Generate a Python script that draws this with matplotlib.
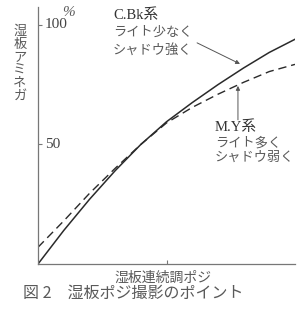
import matplotlib
matplotlib.use("Agg")
import matplotlib.pyplot as plt

plt.rcParams['font.family'] = ['Noto Sans CJK JP', 'DejaVu Sans']

# values (x: wet-plate continuous-tone positive, y: %)
x_vals = [0, 10, 20, 30, 40, 50, 60, 70, 80, 90, 100]
cbk_vals = [0, 14, 27, 39, 50, 59.5, 67.5, 75, 82, 88.5, 94]      # C.Bk (solid)
my_vals = [7, 18, 29.5, 40, 50, 59, 65.5, 71, 76, 80.5, 83.5]     # M.Y (dashed)
y_ticks = [50, 100]
x_ticks = [50]

cbk_lines = ['C.Bk系', 'ライト少なく', 'シャドウ強く']
my_lines = ['M.Y系', 'ライト多く', 'シャドウ弱く']
ylabel = '湿板アミネガ'
xlabel = '湿板連続調ポジ'
caption = '図 2　湿板ポジ撮影のポイント'

txt_col = '#5a5a5a'
line_col = '#2a2a2a'
mixed = ['Liberation Serif', 'Noto Sans CJK JP']

fig = plt.figure(figsize=(3.0, 3.11), dpi=100)
ax = fig.add_axes([38 / 300, 47 / 311, 257 / 300, 257 / 311])

ax.plot(x_vals, cbk_vals, color=line_col, lw=1.1)
ax.plot(x_vals, my_vals, color=line_col, lw=1.0, dashes=(6, 3.5))

ax.set_xlim(0, 100)
ax.set_ylim(0, 107.5)
for side in ['top', 'right']:
    ax.spines[side].set_visible(False)
for side in ['left', 'bottom']:
    ax.spines[side].set_color('#777777')
    ax.spines[side].set_linewidth(0.9)

ax.set_yticks(y_ticks)
ax.set_xticks(x_ticks)
ax.tick_params(direction='in', length=3, width=0.8, color='#777777',
               labelleft=False, labelbottom=False)
for v in y_ticks:
    ax.text(2.6, v, str(v), ha='left', va='center', fontsize=11,
            family='Liberation Serif', color='#444444')
ax.text(11.7, 105, '%', ha='center', va='center', fontsize=11,
        family='Liberation Serif', style='italic', color=txt_col)

# labels for the two curves
for i, (s, y) in enumerate(zip(cbk_lines, [104.2, 96.7, 89.5])):
    ax.text(29.2, y, s, ha='left', va='center',
            fontsize=10.5 if i == 0 else 9.5,
            family=mixed, color='#333333' if i == 0 else txt_col)
for i, (s, y) in enumerate(zip(my_lines, [57.3, 50.6, 44.4])):
    ax.text(68.9, y, s, ha='left', va='center',
            fontsize=10.5 if i == 0 else 9.5,
            family=mixed, color='#333333' if i == 0 else txt_col)

arrow = dict(arrowstyle='-|>', color='#555555', lw=0.7,
             mutation_scale=6, shrinkA=0, shrinkB=0)
ax.annotate('', xy=(78.6, 83.7), xytext=(61.9, 92.5), arrowprops=arrow)
ax.annotate('', xy=(77.8, 74.5), xytext=(77.8, 60.3), arrowprops=arrow)

fig.text(20 / 300, 1 - 64 / 311, '\n'.join(ylabel), ha='center', va='center',
         fontsize=9.5, linespacing=1.0, color=txt_col)
fig.text(163 / 300, 1 - 278 / 311, xlabel, ha='center', va='center',
         fontsize=10, color=txt_col)
fig.text(23 / 300, 1 - 293 / 311, caption, ha='left', va='center',
         fontsize=11.5, color=txt_col)

fig.savefig('out.png', dpi=100)
